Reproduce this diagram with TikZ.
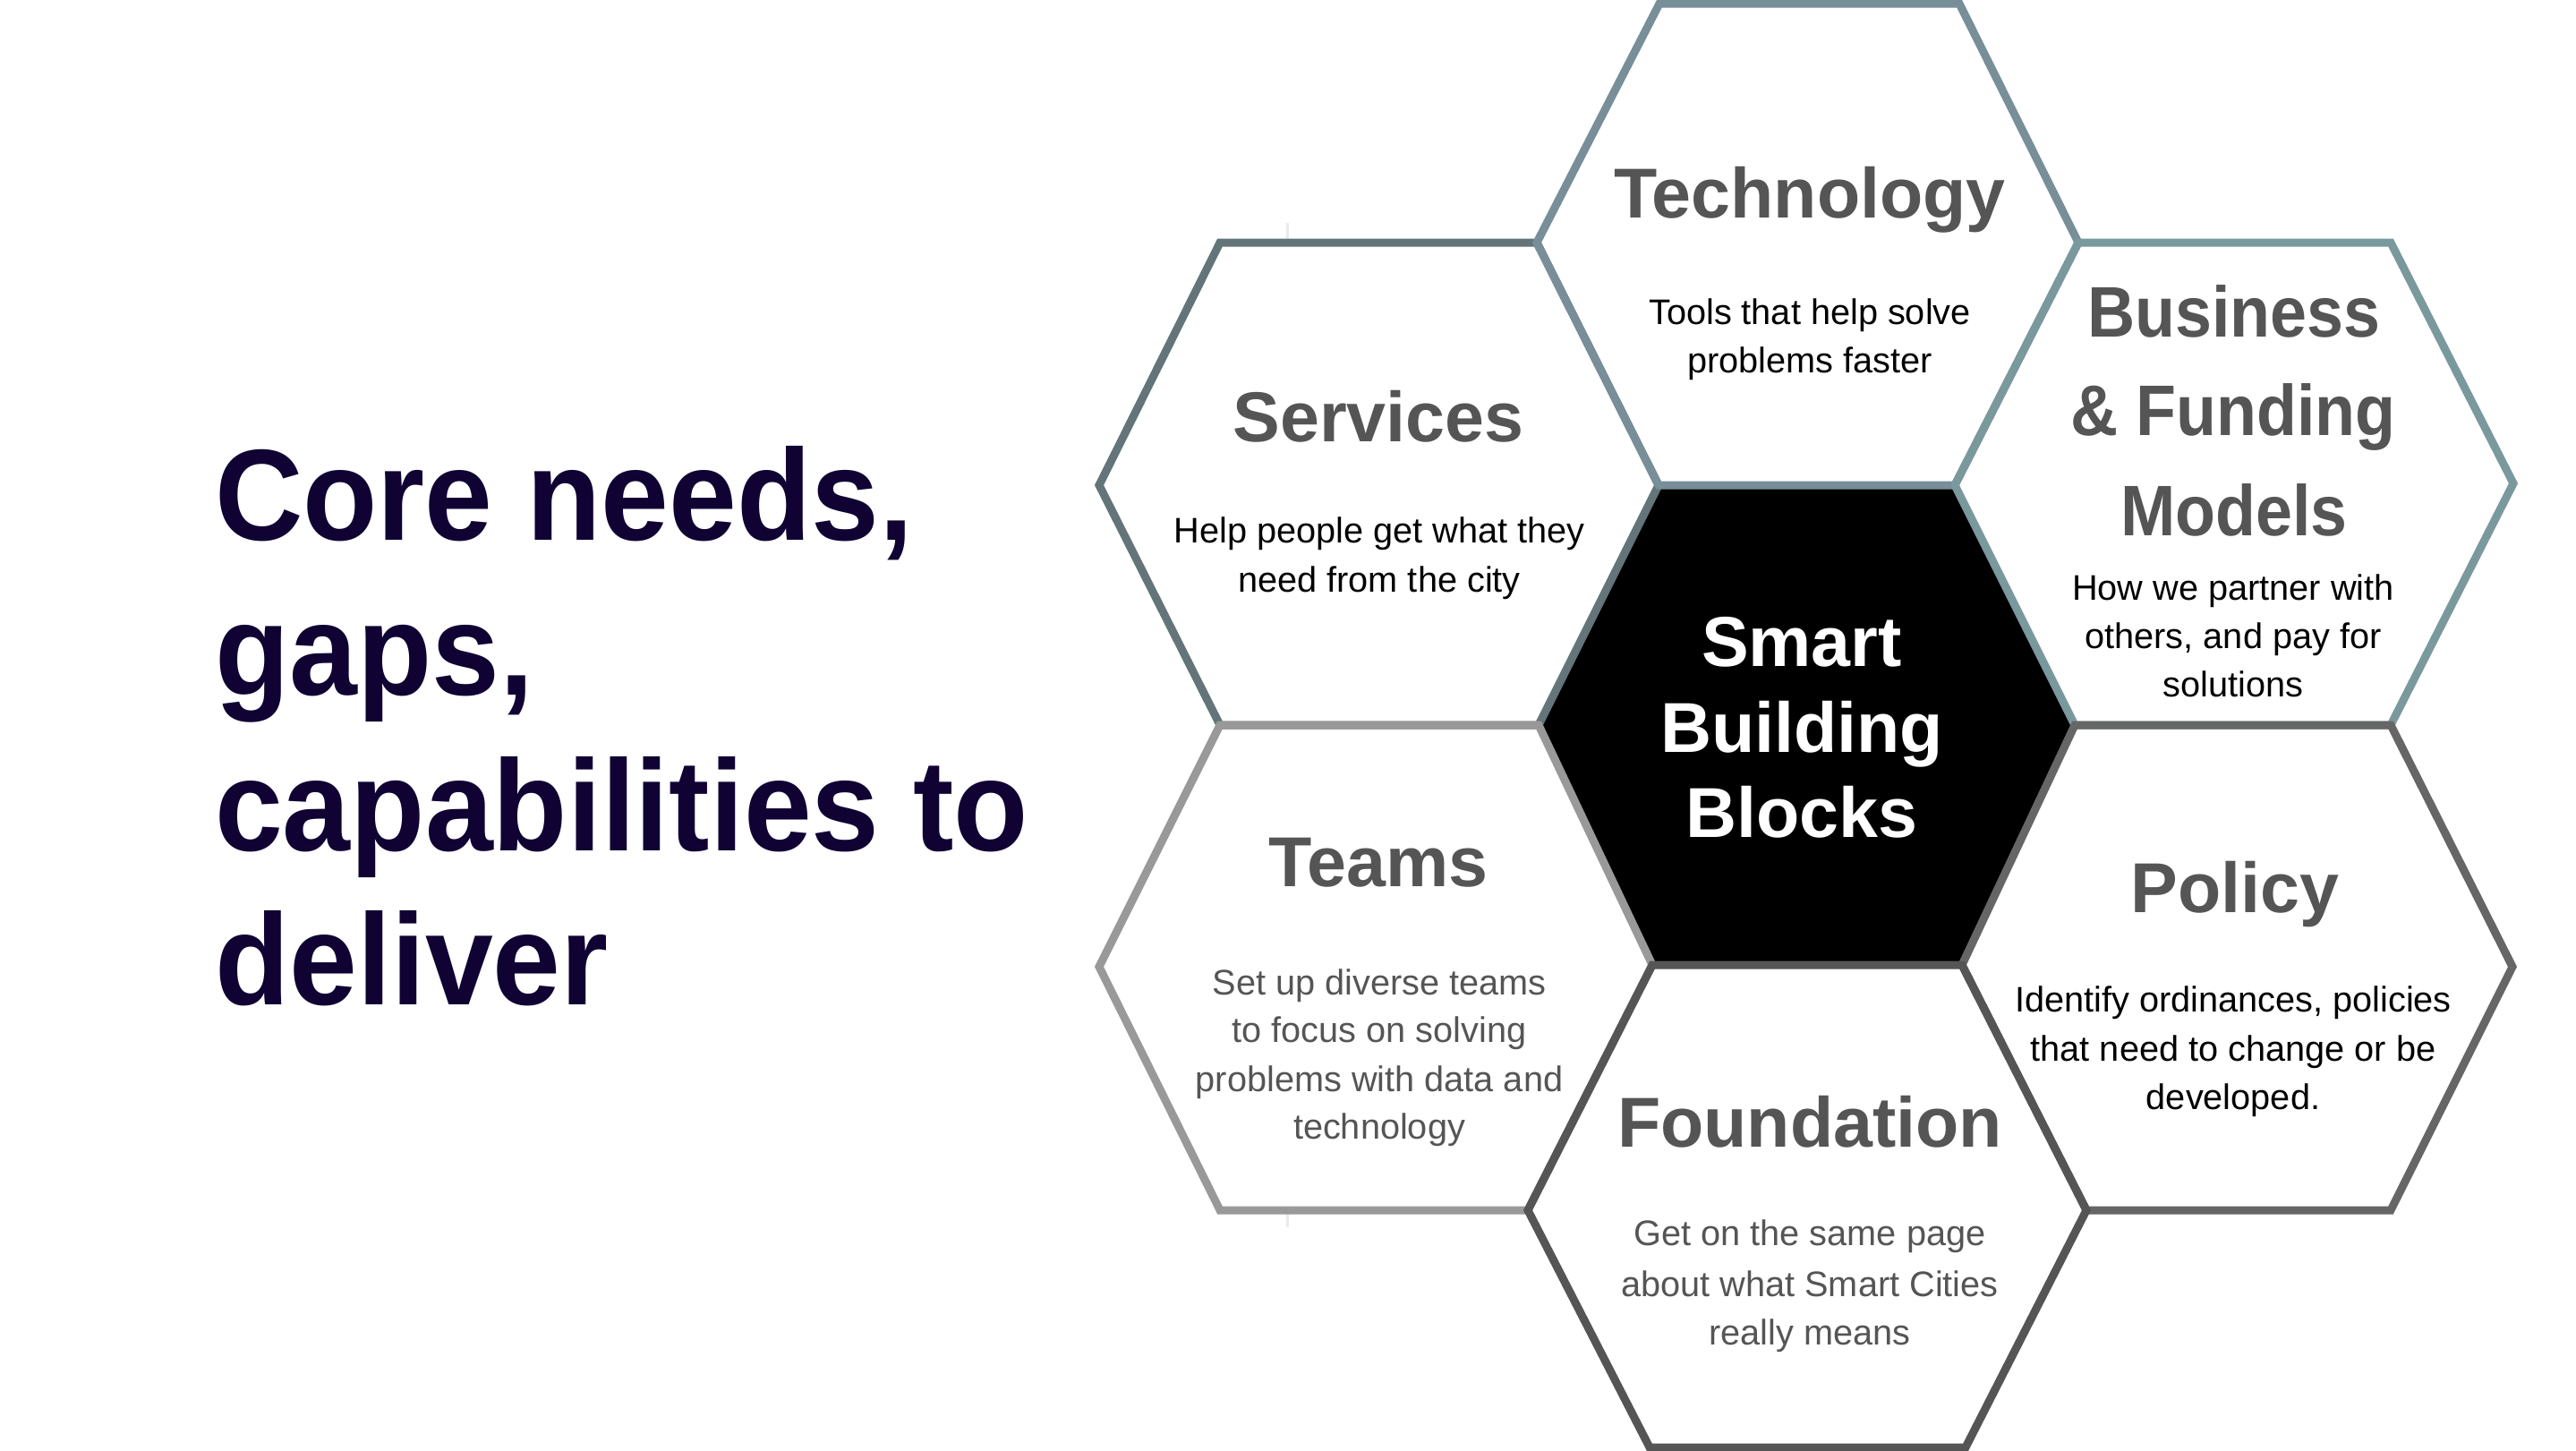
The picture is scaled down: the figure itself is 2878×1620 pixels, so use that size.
\documentclass[tikz,border=0pt]{standalone}
\usepackage{fontspec}
\setmainfont{Liberation Sans}
\newfontfamily\headfont[FakeStretch=0.94]{Liberation Sans}
\newfontfamily\modelfont[FakeStretch=0.92]{Liberation Sans}

\definecolor{titlenavy}{HTML}{100233}
\definecolor{headgray}{HTML}{555555}
\definecolor{bodygray}{HTML}{555555}
\definecolor{techline}{HTML}{788E98}
\definecolor{servline}{HTML}{637579}
\definecolor{busline}{HTML}{7A999D}
\definecolor{teamline}{HTML}{999999}
\definecolor{policyline}{HTML}{666666}
\definecolor{foundline}{HTML}{555555}
\definecolor{faintline}{HTML}{EBEBEF}

\begin{document}
\begin{tikzpicture}[x=1pt,y=-1pt,
  hexline/.style={line width=9pt, line join=miter},
  bigtitle/.style={anchor=base west, inner sep=0pt, text=titlenavy,
    font=\headfont\bfseries\fontsize{145}{173}\selectfont},
  hexhead/.style={anchor=base, inner sep=0pt, text=headgray,
    font=\bfseries\fontsize{79}{95}\selectfont},
  modelhead/.style={anchor=base, inner sep=0pt, text=headgray,
    font=\modelfont\bfseries\fontsize{80}{111}\selectfont},
  corehead/.style={anchor=base, inner sep=0pt, text=white,
    font=\bfseries\fontsize{79}{95}\selectfont},
  hexbody/.style={anchor=base, inner sep=0pt, text=black,
    font=\fontsize{39.7}{54.5}\selectfont},
  graybody/.style={hexbody, text=bodygray},
]
% page
\fill[white] (0,0) rectangle (2878,1620);
\useasboundingbox (0,0) rectangle (2878,1620);

% small guide ticks above and below the left column
\draw[faintline, line width=3pt] (1438,249) -- (1438,271);
\draw[faintline, line width=3pt] (1438,1356) -- (1438,1371);

% shared hexagon corners
\coordinate (sL)   at (1228,542);
\coordinate (sTL)  at (1363,271);
\coordinate (sTR)  at (1717,271);
\coordinate (cTL)  at (1853,542);
\coordinate (cL)   at (1719,810);
\coordinate (sBL)  at (1363,810);
\coordinate (tTL)  at (1854,4);
\coordinate (tTR)  at (2189,4);
\coordinate (tR)   at (2322,271);
\coordinate (cTR)  at (2184,542);
\coordinate (bTR)  at (2671,271);
\coordinate (bR)   at (2808,540);
\coordinate (bBR)  at (2671,810);
\coordinate (cR)   at (2318,810);
\coordinate (pR)   at (2807,1080);
\coordinate (pBR)  at (2671,1352);
\coordinate (pBL)  at (2331,1352);
\coordinate (cBR)  at (2192,1078);
\coordinate (cBL)  at (1846,1078);
\coordinate (tmL)  at (1228,1080);
\coordinate (tmBL) at (1363,1352);
\coordinate (tmBR) at (1707,1352);
\coordinate (fBL)  at (1843,1617);
\coordinate (fBR)  at (2196,1617);

% hexagons, later ones overlap shared edges
\fill[black] (cL) -- (cTL) -- (cTR) -- (cR) -- (cBR) -- (cBL) -- cycle;
\draw[hexline, servline]   (sL) -- (sTL) -- (sTR) -- (cTL) -- (cL) -- (sBL) -- cycle;
\draw[hexline, techline]   (sTR) -- (tTL) -- (tTR) -- (tR) -- (cTR) -- (cTL) -- cycle;
\draw[hexline, busline]    (cTR) -- (tR) -- (bTR) -- (bR) -- (bBR) -- (cR) -- cycle;
\draw[hexline, teamline]   (tmL) -- (sBL) -- (cL) -- (cBL) -- (tmBR) -- (tmBL) -- cycle;
\draw[hexline, policyline] (cBR) -- (cR) -- (bBR) -- (pR) -- (pBR) -- (pBL) -- cycle;
\draw[hexline, foundline]  (tmBR) -- (cBL) -- (cBR) -- (pBL) -- (fBR) -- (fBL) -- cycle;

% heading on the left
\node[bigtitle] (head1) at (240,603)  {Core needs,};
\node[bigtitle] (head2) at (240,776)  {gaps,};
\node[bigtitle] (head3) at (240,950)  {capabilities to};
\node[bigtitle] (head4) at (240,1122) {deliver};

% centre
\node[corehead] (core1) at (2013,744) {Smart};
\node[corehead] (core2) at (2013,840) {Building};
\node[corehead] (core3) at (2013,935) {Blocks};

% Technology
\node[hexhead] (techT)  at (2022,243)   {Technology};
\node[hexbody] (techB1) at (2022,362.5) {Tools that help solve};
\node[hexbody] (techB2) at (2022,416)   {problems faster};

% Services
\node[hexhead] (servT)  at (1540,493) {Services};
\node[hexbody] (servB1) at (1541,606) {Help people get what they};
\node[hexbody] (servB2) at (1541,661) {need from the city};

% Business & Funding Models
\node[modelhead] (busT1) at (2496,376) {Business};
\node[modelhead] (busT2) at (2495,486.5) {\& Funding};
\node[modelhead] (busT3) at (2496,598) {Models};
\node[hexbody] (busB1) at (2495,670)   {How we partner with};
\node[hexbody] (busB2) at (2495,724.5) {others, and pay for};
\node[hexbody] (busB3) at (2495,778)   {solutions};

% Teams
\node[hexhead]  (teamT)  at (1540,990.5)  {Teams};
\node[graybody] (teamB1) at (1541,1111)   {Set up diverse teams};
\node[graybody] (teamB2) at (1541,1164.6) {to focus on solving};
\node[graybody] (teamB3) at (1541,1219)   {problems with data and};
\node[graybody] (teamB4) at (1541,1272)   {technology};

% Policy
\node[hexhead] (polT)  at (2497,1019)   {Policy};
\node[hexbody] (polB1) at (2495,1130)   {Identify ordinances, policies};
\node[hexbody] (polB2) at (2495,1185.7) {that need to change or be};
\node[hexbody] (polB3) at (2495,1239)   {developed.};

% Foundation
\node[hexhead]  (fndT)  at (2022,1281)   {Foundation};
\node[graybody] (fndB1) at (2022,1391.7) {Get on the same page};
\node[graybody] (fndB2) at (2022,1448)   {about what Smart Cities};
\node[graybody] (fndB3) at (2022,1502.6) {really means};
\end{tikzpicture}
\end{document}
